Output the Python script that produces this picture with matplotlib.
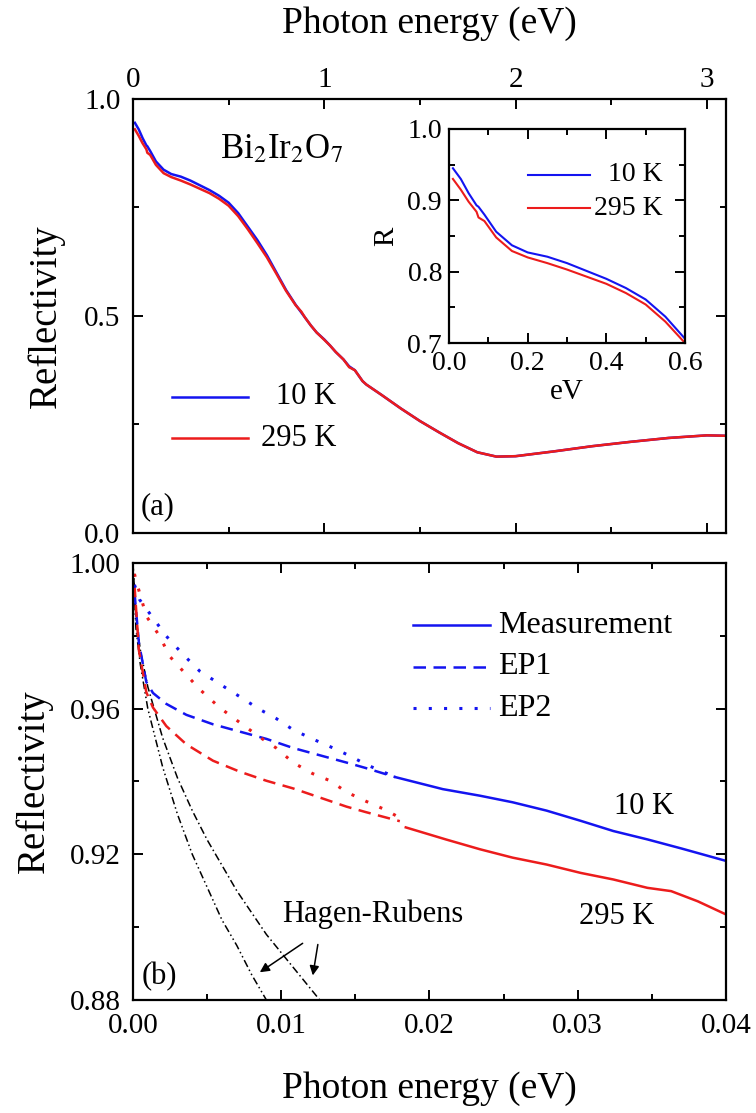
import numpy as np
import matplotlib
matplotlib.use("Agg")
from matplotlib import pyplot as plt
from matplotlib.ticker import MultipleLocator, FormatStrFormatter

plt.rcParams['font.family'] = ['Liberation Serif', 'DejaVu Serif']
plt.rcParams['mathtext.fontset'] = 'stix'

BLUE = '#1414f0'
RED = '#ec1c1c'

# ---- panel (a): reflectivity up to 3.1 eV
energy_a = [0.01, 0.03, 0.05, 0.07, 0.075, 0.09, 0.12, 0.16, 0.2, 0.25, 0.3, 0.35,
            0.4, 0.45, 0.5, 0.55, 0.6, 0.65, 0.7, 0.75, 0.8, 0.85, 0.88, 0.9,
            0.93, 0.96, 1.0, 1.03, 1.06, 1.1, 1.13, 1.16, 1.2, 1.22, 1.3, 1.4,
            1.5, 1.6, 1.7, 1.8, 1.9, 2.0, 2.2, 2.4, 2.6, 2.8, 3.0, 3.1]
refl_10K = [0.945, 0.930, 0.910, 0.893, 0.891, 0.880, 0.856, 0.837, 0.827, 0.821,
            0.812, 0.801, 0.790, 0.777, 0.761, 0.737, 0.706, 0.675, 0.640, 0.600,
            0.560, 0.526, 0.508, 0.496, 0.478, 0.462, 0.446, 0.432, 0.417, 0.400,
            0.384, 0.375, 0.350, 0.342, 0.318, 0.287, 0.258, 0.232, 0.207, 0.186,
            0.176, 0.177, 0.188, 0.200, 0.210, 0.219, 0.225, 0.224]
refl_295K = [0.930, 0.915, 0.898, 0.884, 0.876, 0.871, 0.848, 0.829, 0.820, 0.812,
             0.803, 0.793, 0.783, 0.770, 0.754, 0.730, 0.700, 0.668, 0.635, 0.597,
             0.558, 0.525, 0.510, 0.496, 0.478, 0.462, 0.445, 0.432, 0.417, 0.400,
             0.382, 0.375, 0.350, 0.342, 0.318, 0.287, 0.258, 0.232, 0.207, 0.186,
             0.176, 0.177, 0.188, 0.200, 0.210, 0.219, 0.225, 0.224]

# ---- panel (b): far-infrared region and extrapolations
meas_10K_E = [0.0177, 0.0209, 0.0234, 0.0256, 0.0279, 0.0302, 0.0324, 0.0347, 0.0370, 0.0400]
meas_10K_R = [0.9412, 0.9379, 0.9361, 0.9343, 0.9320, 0.9292, 0.9264, 0.9241, 0.9216, 0.9182]
meas_295K_E = [0.0184, 0.0211, 0.0234, 0.0256, 0.0279, 0.0302, 0.0324, 0.0347, 0.0363, 0.0381, 0.0400]
meas_295K_R = [0.9274, 0.9241, 0.9214, 0.9191, 0.9172, 0.9149, 0.9131, 0.9108, 0.9099, 0.9071, 0.9035]

ep1_10K_E = [0.0001, 0.0004, 0.0009, 0.00135, 0.00225, 0.0036, 0.0054, 0.0072, 0.0090, 0.0108, 0.0126, 0.0144, 0.0157, 0.0177]
ep1_10K_R = [0.992, 0.978, 0.9673, 0.9643, 0.9613, 0.9583, 0.9557, 0.9537, 0.9517, 0.9492, 0.9472, 0.9452, 0.9437, 0.9412]
ep1_295K_E = [0.0001, 0.0004, 0.0009, 0.00135, 0.00225, 0.0036, 0.0054, 0.0072, 0.0090, 0.0108, 0.0126, 0.0144, 0.0157, 0.0180]
ep1_295K_R = [0.994, 0.976, 0.9645, 0.9603, 0.9552, 0.9502, 0.9457, 0.9427, 0.9402, 0.9381, 0.9356, 0.9331, 0.9316, 0.9291]

ep2_10K_E = [0.0001, 0.00045, 0.00135, 0.00225, 0.00337, 0.0045, 0.00584, 0.0072, 0.00854,
             0.00966, 0.0108, 0.0121, 0.0135, 0.0148, 0.0157, 0.0177]
ep2_10K_R = [0.994, 0.9899, 0.9849, 0.9799, 0.9749, 0.9703, 0.9668, 0.9633, 0.9598,
             0.9573, 0.9542, 0.9517, 0.9492, 0.9467, 0.9447, 0.9412]
ep2_295K_E = [0.0001, 0.00022, 0.0009, 0.0018, 0.00247, 0.0036, 0.0045, 0.00584, 0.0072,
              0.00854, 0.00966, 0.0108, 0.0121, 0.0133, 0.0144, 0.0157, 0.0171, 0.0180]
ep2_295K_R = [0.997, 0.995, 0.9854, 0.9799, 0.9744, 0.9693, 0.9653, 0.9603, 0.9562,
              0.9522, 0.9492, 0.9452, 0.9422, 0.9402, 0.9371, 0.9346, 0.9321, 0.9300]

hr1_E = [0.0, 0.0002, 0.0005, 0.001, 0.002, 0.003, 0.004, 0.005, 0.006, 0.007, 0.008, 0.009, 0.0092]
hr1_R = [1.0, 0.982, 0.972, 0.960, 0.944, 0.931, 0.920, 0.911, 0.902, 0.895, 0.887, 0.880, 0.879]
hr2_E = [0.0, 0.0002, 0.0005, 0.001, 0.002, 0.003, 0.004, 0.005, 0.006, 0.007, 0.008, 0.009,
         0.010, 0.011, 0.012, 0.0126]
hr2_R = [1.0, 0.985, 0.976, 0.966, 0.952, 0.941, 0.932, 0.924, 0.917, 0.910, 0.904, 0.898,
         0.893, 0.888, 0.883, 0.880]

fig = plt.figure(figsize=(7.56, 11.13), dpi=100)


def style_axes(ax, size=21):
    ax.tick_params(which='both', direction='in', top=True, right=True,
                   width=1.4, labelsize=size)
    ax.tick_params(which='major', length=7)
    ax.tick_params(which='minor', length=4.5)
    ax.tick_params(axis='y', pad=9)
    ax.tick_params(axis='x', pad=6)
    for s in ax.spines.values():
        s.set_linewidth(1.6)


# panel (a)
ax1 = fig.add_axes([0.1759, 0.5211, 0.7844, 0.3900])
ax1.plot(energy_a, refl_10K, color=BLUE, lw=1.8)
ax1.plot(energy_a, refl_295K, color=RED, lw=1.8)
ax1.set_xlim(0, 3.1)
ax1.set_ylim(0, 1.0)
ax1.xaxis.set_major_locator(MultipleLocator(1))
ax1.xaxis.set_minor_locator(MultipleLocator(0.5))
ax1.yaxis.set_major_locator(MultipleLocator(0.5))
ax1.yaxis.set_minor_locator(MultipleLocator(0.25))
ax1.yaxis.set_major_formatter(FormatStrFormatter('%.1f'))
style_axes(ax1)
ax1.tick_params(axis='x', labeltop=True, labelbottom=False, pad=4)
ax1.xaxis.set_label_position('top')
ax1.set_xlabel('Photon energy (eV)', fontsize=27, labelpad=25)
ax1.set_ylabel('Reflectivity', fontsize=28, labelpad=14)
ax1.text(0.147, 0.882, r'Bi$_2$Ir$_2$O$_7$', fontsize=25, va='center',
         transform=ax1.transAxes)
ax1.text(0.013, 0.06, '(a)', fontsize=22, va='center', transform=ax1.transAxes)
# legend drawn by hand (right aligned labels)
ax1.plot([0.065, 0.194], [0.314, 0.314], transform=ax1.transAxes, color=BLUE, lw=1.8)
ax1.plot([0.065, 0.194], [0.218, 0.218], transform=ax1.transAxes, color=RED, lw=1.8)
ax1.text(0.343, 0.314, '10 K', transform=ax1.transAxes, fontsize=22, ha='right', va='center')
ax1.text(0.343, 0.218, '295 K', transform=ax1.transAxes, fontsize=22, ha='right', va='center')

# inset
ax_in = fig.add_axes([0.5939, 0.6918, 0.3122, 0.1923])
ax_in.plot(energy_a, refl_10K, color=BLUE, lw=1.5)
ax_in.plot(energy_a, refl_295K, color=RED, lw=1.5)
ax_in.set_xlim(0, 0.6)
ax_in.set_ylim(0.7, 1.0)
ax_in.xaxis.set_major_locator(MultipleLocator(0.2))
ax_in.xaxis.set_minor_locator(MultipleLocator(0.1))
ax_in.yaxis.set_major_locator(MultipleLocator(0.1))
ax_in.yaxis.set_minor_locator(MultipleLocator(0.05))
ax_in.xaxis.set_major_formatter(FormatStrFormatter('%.1f'))
ax_in.yaxis.set_major_formatter(FormatStrFormatter('%.1f'))
style_axes(ax_in, size=20)
ax_in.tick_params(axis='y', pad=5)
ax_in.tick_params(axis='x', pad=6)
ax_in.set_xlabel('eV', fontsize=21, labelpad=2)
ax_in.set_ylabel('R', fontsize=21, labelpad=6)
ax_in.plot([0.335, 0.597], [0.787, 0.787], transform=ax_in.transAxes, color=BLUE, lw=1.5)
ax_in.plot([0.335, 0.597], [0.63, 0.63], transform=ax_in.transAxes, color=RED, lw=1.5)
ax_in.text(0.905, 0.787, '10 K', transform=ax_in.transAxes, fontsize=20, ha='right', va='center')
ax_in.text(0.905, 0.63, '295 K', transform=ax_in.transAxes, fontsize=20, ha='right', va='center')

# panel (b)
ax2 = fig.add_axes([0.1759, 0.1015, 0.7844, 0.3927])
ax2.plot(hr1_E, hr1_R, color='black', lw=1.1, ls=(0, (5, 2, 1, 2, 1, 2)))
ax2.plot(hr2_E, hr2_R, color='black', lw=1.1, ls=(0, (5, 2, 1, 2)))
ax2.plot(ep1_10K_E, ep1_10K_R, color=BLUE, lw=1.8, ls=(0, (5, 3)))
ax2.plot(ep1_295K_E, ep1_295K_R, color=RED, lw=1.8, ls=(0, (5, 3)))
ax2.plot(ep2_10K_E, ep2_10K_R, color=BLUE, lw=2.2, ls=(0, (1, 4)))
ax2.plot(ep2_295K_E, ep2_295K_R, color=RED, lw=2.2, ls=(0, (1, 4)))
ax2.plot(meas_10K_E, meas_10K_R, color=BLUE, lw=1.8)
ax2.plot(meas_295K_E, meas_295K_R, color=RED, lw=1.8)
ax2.set_xlim(0, 0.04)
ax2.set_ylim(0.88, 1.0)
ax2.xaxis.set_major_locator(MultipleLocator(0.01))
ax2.xaxis.set_minor_locator(MultipleLocator(0.005))
ax2.yaxis.set_major_locator(MultipleLocator(0.04))
ax2.yaxis.set_minor_locator(MultipleLocator(0.02))
ax2.xaxis.set_major_formatter(FormatStrFormatter('%.2f'))
ax2.yaxis.set_major_formatter(FormatStrFormatter('%.2f'))
style_axes(ax2)
ax2.tick_params(axis='x', pad=9)
ax2.set_xlabel('Photon energy (eV)', fontsize=27, labelpad=24)
ax2.set_ylabel('Reflectivity', fontsize=28, labelpad=12)
ax2.text(0.0345, 0.933, '10 K', fontsize=22, ha='center', va='center')
ax2.text(0.0326, 0.903, '295 K', fontsize=22, ha='center', va='center')
ax2.text(0.0162, 0.9035, 'Hagen-Rubens', fontsize=22, ha='center', va='center')
ax2.text(0.0006, 0.8865, '(b)', fontsize=22, ha='left', va='center')
ax2.annotate('', xy=(0.0084, 0.8872), xytext=(0.0116, 0.8960),
             arrowprops=dict(arrowstyle='-|>', color='black', lw=1.1, mutation_scale=14))
ax2.annotate('', xy=(0.0121, 0.8860), xytext=(0.0125, 0.8960),
             arrowprops=dict(arrowstyle='-|>', color='black', lw=1.1, mutation_scale=14))
# legend drawn by hand
for yy, ls in [(0.858, '-'), (0.763, (0, (5, 3))), (0.668, (0, (1, 4)))]:
    ax2.plot([0.472, 0.602], [yy, yy], transform=ax2.transAxes, color=BLUE,
             lw=2.2 if ls == (0, (1, 4)) else 1.8, ls=ls)
ax2.text(0.616, 0.858, 'Measurement', transform=ax2.transAxes, fontsize=23, va='center')
ax2.text(0.616, 0.763, 'EP1', transform=ax2.transAxes, fontsize=23, va='center')
ax2.text(0.616, 0.668, 'EP2', transform=ax2.transAxes, fontsize=23, va='center')

fig.savefig('out.png', dpi=100)
